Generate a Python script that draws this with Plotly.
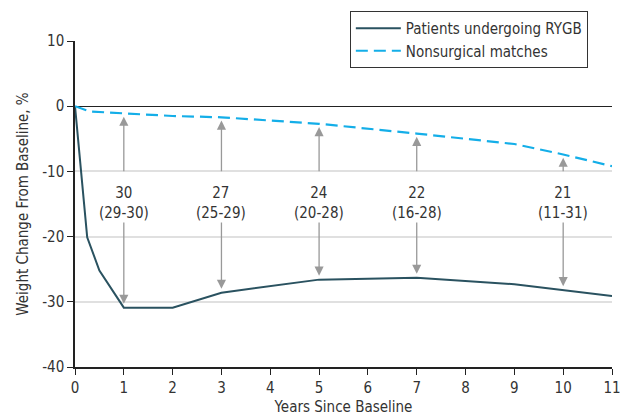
import plotly.graph_objects as go

years_rygb = [0, 0.25, 0.5, 1, 2, 3, 5, 7, 9, 10, 11]
rygb = [0, -20.1, -25.2, -30.9, -30.9, -28.6, -26.6, -26.3, -27.3, -28.2, -29.1]
years_ns = [0, 0.3, 1, 2, 3, 5, 7, 9, 10, 11]
nonsurg = [0, -0.8, -1.1, -1.5, -1.7, -2.7, -4.2, -5.8, -7.4, -9.2]

diff_years = [1, 3, 5, 7, 10]
diff_mean = ["30", "27", "24", "22", "21"]
diff_ci = ["(29-30)", "(25-29)", "(20-28)", "(16-28)", "(11-31)"]

x_ticks = list(range(0, 12))
y_ticks = [-40, -30, -20, -10, 0, 10]
y_labels = ["-40", "-30", "-20", "-10", "0", "10"]

FONT = "DejaVu Sans Condensed, Roboto, sans-serif"
fig = go.Figure()
fig.add_trace(go.Scatter(x=years_rygb, y=rygb, mode="lines", name="Patients undergoing RYGB",
                         line=dict(color="#2a5260", width=2)))
fig.add_trace(go.Scatter(x=years_ns, y=nonsurg, mode="lines", name="Nonsurgical matches",
                         line=dict(color="#14aee8", width=2.2, dash="12px,6px")))

def val_at(xs, ys, x):
    for i in range(len(xs) - 1):
        if xs[i] <= x <= xs[i + 1]:
            t = (x - xs[i]) / (xs[i + 1] - xs[i])
            return ys[i] + t * (ys[i + 1] - ys[i])
    return ys[-1]

for yr, m, ci in zip(diff_years, diff_mean, diff_ci):
    top = val_at(years_ns, nonsurg, yr)
    bot = val_at(years_rygb, rygb, yr)
    fig.add_annotation(x=yr, y=top - 0.5, ax=yr, ay=-10.2, xref="x", yref="y", axref="x", ayref="y",
                       showarrow=True, arrowhead=2, arrowsize=1.4, arrowwidth=1.3, arrowcolor="#999999", text="")
    fig.add_annotation(x=yr, y=bot + 0.6, ax=yr, ay=-17.6, xref="x", yref="y", axref="x", ayref="y",
                       showarrow=True, arrowhead=2, arrowsize=1.4, arrowwidth=1.3, arrowcolor="#999999", text="")
    fig.add_annotation(x=yr, y=-14.8, text=m + "<br>" + ci, showarrow=False,
                       font=dict(family=FONT, size=15, color="#333333"))

fig.update_layout(
    width=628, height=416,
    margin=dict(l=75, r=16, t=41, b=49, autoexpand=False),
    paper_bgcolor="white", plot_bgcolor="white",
    font=dict(family=FONT, size=15, color="#333333"),
    showlegend=True,
    legend=dict(x=0.955, y=1.092, xanchor="right", yanchor="top", bordercolor="#333333", borderwidth=1,
                bgcolor="white", font=dict(size=15), tracegroupgap=0, itemwidth=45),
    xaxis=dict(range=[0, 11], tickvals=x_ticks, showgrid=False, zeroline=False, automargin=False,
               showline=True, linecolor="#222222", linewidth=1.5, ticks="outside", ticklen=6,
               tickcolor="#222222",
               title=dict(text="Years Since Baseline", standoff=17, font=dict(size=15))),
    yaxis=dict(range=[-40, 10], tickvals=y_ticks, ticktext=y_labels, showgrid=True, gridcolor="#e0e0e0",
               gridwidth=1.5, zeroline=True, zerolinecolor="#222222", zerolinewidth=1.2, automargin=False,
               showline=True, linecolor="#222222", linewidth=1.5, ticks="outside", ticklen=6,
               tickcolor="#222222",
               title=dict(text="Weight Change From Baseline, %", standoff=10, font=dict(size=15))),
)
fig.write_html("out.html")
